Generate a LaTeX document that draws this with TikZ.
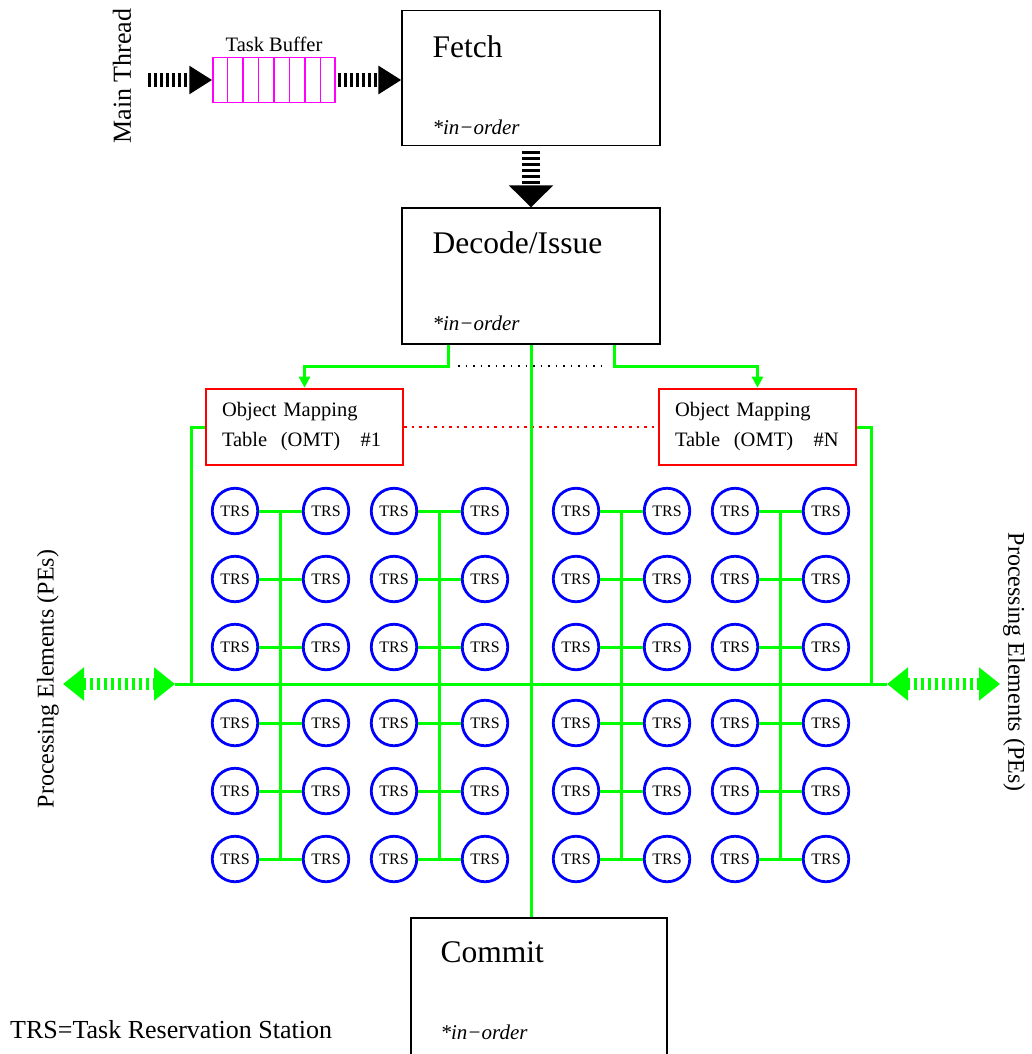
\documentclass[tikz,border=0pt]{standalone}
\usepackage{fontspec}
\setmainfont{Liberation Serif}
\usepackage{xcolor}
\usetikzlibrary{arrows.meta,positioning,calc}
\definecolor{BusGreen}{RGB}{0,255,0}
\definecolor{TrsBlue}{RGB}{0,0,255}
\definecolor{OmtRed}{RGB}{255,0,0}
\definecolor{BufMagenta}{RGB}{255,0,255}
\newcommand{\fsz}[1]{\fontsize{#1}{#1}\selectfont}

\begin{document}
\begin{tikzpicture}[x=1pt, y=-1pt,
  stagebox/.style={draw, line width=1.2pt, minimum width=258pt, minimum height=135pt},
  stagetitle/.style={anchor=west, inner sep=0pt, font=\fsz{31.5}},
  stagenote/.style={anchor=west, inner sep=0pt, font=\fsz{21}\itshape},
  omtbox/.style={draw=OmtRed, line width=2.7pt, align=left, text width=165pt, inner xsep=16pt,
    minimum height=76pt, font=\fontsize{20.5}{30}\selectfont},
  trs/.style={circle, draw=TrsBlue, line width=2.8pt, minimum size=45.5pt, inner sep=0pt, font=\fsz{16}},
  bus/.style={BusGreen, line width=3pt},
  mainflow/.style={line width=14pt, dash pattern=on 3pt off 3pt, -{Triangle[length=23pt,width=27pt]}},
  stageflow/.style={line width=18pt, dash pattern=on 3pt off 3pt, -{Triangle[length=22pt,width=43pt]}},
  peflow/.style={BusGreen, line width=12pt, dash pattern=on 3.5pt off 3.5pt,
    {Triangle[length=21pt,width=32pt]}-{Triangle[length=21pt,width=32pt]}}]
  \useasboundingbox (0,0) rectangle (1031,1054);
  \clip (0,0) rectangle (1031,1054);

  % pipeline stages
  \node[stagebox] (fetch) at (531,78) {};
  \node[stagetitle] (fetchT) at ([xshift=31pt,yshift=-37pt]fetch.north west) {Fetch};
  \node[stagenote] (fetchN) at ([xshift=31pt,yshift=19pt]fetch.south west) {*in−order};
  \node[stagebox, minimum height=136pt] (decode) at (531,276) {};
  \node[stagetitle] (decodeT) at ([xshift=31pt,yshift=-35pt]decode.north west) {Decode/Issue};
  \node[stagenote] (decodeN) at ([xshift=31pt,yshift=21pt]decode.south west) {*in−order};
  \node[stagebox, minimum width=256pt, minimum height=160pt] (commit) at (539,998) {};
  \node[stagetitle] (commitT) at ([xshift=30pt,yshift=-35pt]commit.north west) {Commit};
  \node[stagenote] (commitN) at ([xshift=30pt,yshift=-115pt]commit.north west) {*in−order};

  % task buffer
  \node[rotate=90, font=\fsz{26}] (mainT) at (122,76) {Main Thread};
  \node[draw=BufMagenta, line width=1.5pt, minimum width=122pt, minimum height=45pt, inner sep=0pt] (buf) at (274,80) {};
  \foreach \i in {1,...,7}
    \draw[BufMagenta, line width=1.5pt] ($(buf.north west)!\i/8!(buf.north east)$) -- ($(buf.south west)!\i/8!(buf.south east)$);
  \node[above=5pt of buf, inner sep=0pt, font=\fsz{20.5}] (bufT) {Task Buffer};
  \coordinate (mtStart) at (148,80);
  \draw[mainflow] (mtStart) -- (buf.west);
  \draw[mainflow] ([xshift=2pt]buf.east) -- (buf.east -| fetch.west);
  \draw[stageflow] ([yshift=-5pt]fetch.south) -- (decode.north);

  % object mapping tables
  \node[omtbox] (omt1) at (304.5,427) {Object Mapping\\Table~~(OMT)~~~\#1};
  \node[omtbox] (omtN) at (757.5,427) {Object Mapping\\Table~~(OMT)~~~\#N};
  \draw[bus, -{Triangle[length=11pt,width=11pt]}] ([xshift=-83pt]decode.south) -- ++(0,22) -| (omt1.north);
  \draw[bus, -{Triangle[length=11pt,width=11pt]}] ([xshift=83pt]decode.south) -- ++(0,22) -| (omtN.north);
  \coordinate (dotL) at (458,366);
  \coordinate (dotR) at (605,366);
  \draw[line width=1.2pt, dash pattern=on 1.5pt off 6pt] (dotL) -- (dotR);
  \draw[OmtRed, line width=2.7pt, dash pattern=on 2.5pt off 5pt] (omt1.east) -- (omtN.west);
  \draw[bus] (decode.south) -- (decode.south |- commit.north);

  % reservation stations
  \foreach \x [count=\c] in {235,326,394,485,576,667,735,826}
    \foreach \y [count=\r] in {511,579,647,723,791,859}
      \node[trs] (t\c-\r) at (\x,\y) {TRS};
  \foreach \a/\b in {1/2,3/4,5/6,7/8} {
    \foreach \r in {1,...,6}
      \draw[bus] (t\a-\r) -- (t\b-\r);
    \draw[bus] ($(t\a-1)!0.5!(t\b-1)$) -- ($(t\a-6)!0.5!(t\b-6)$);
  }

  % bus to the processing elements
  \coordinate (busL) at (175,684);
  \coordinate (busR) at (887,684);
  \coordinate (peL) at (63,684);
  \coordinate (peR) at (1000,684);
  \draw[bus] (busL) -- (busR);
  \draw[bus] (omt1.west) -| ([xshift=16pt]busL);
  \draw[bus] (omtN.east) -| ([xshift=-16pt]busR);
  \draw[peflow] (peL) -- (busL);
  \draw[peflow] (busR) -- (peR);
  \node[rotate=90, font=\fsz{24}] (peLT) at (48,679) {Processing Elements (PEs)};
  \node[rotate=-90, font=\fsz{24}] (peRT) at (1014,662) {Processing Elements (PEs)};

  \node[anchor=west, inner sep=0pt, font=\fsz{26}] (legend) at (10,1030) {TRS=Task Reservation Station};
\end{tikzpicture}
\end{document}
